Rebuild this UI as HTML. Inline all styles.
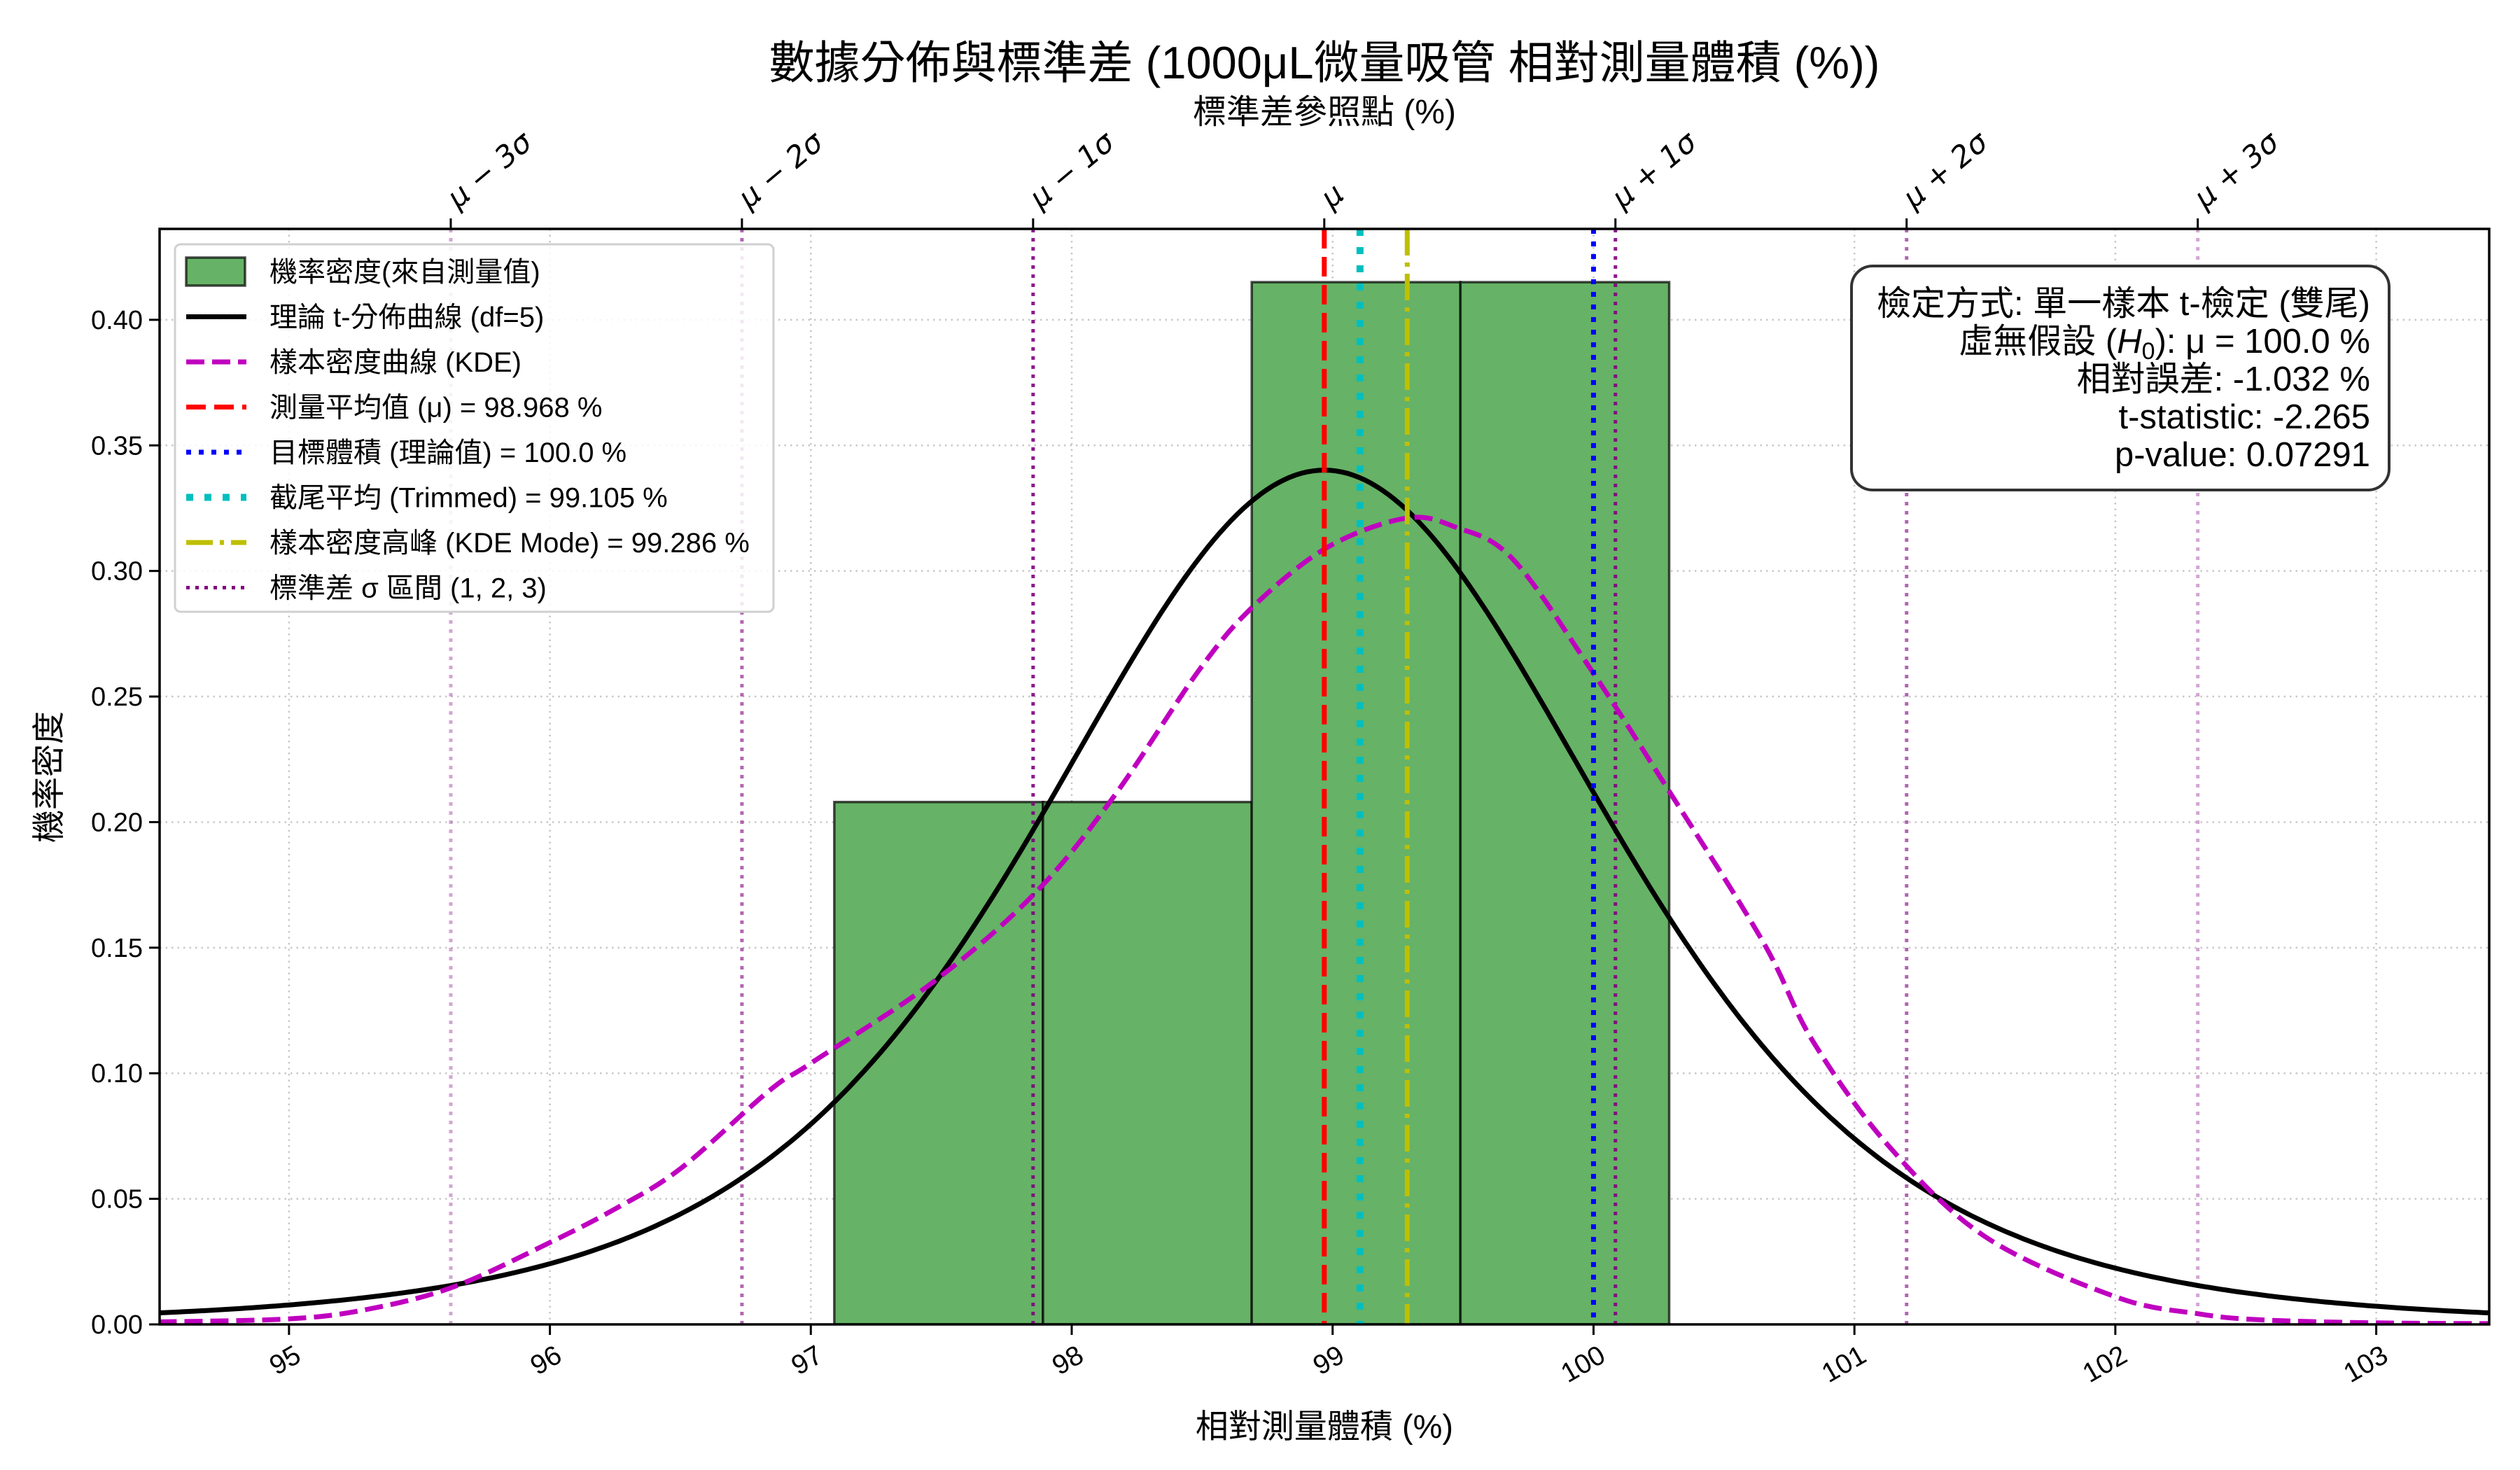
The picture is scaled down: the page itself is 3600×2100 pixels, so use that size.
<!DOCTYPE html>
<html><head><meta charset="utf-8">
<style>
html,body{margin:0;padding:0;background:#fff;}
svg{display:block;font-family:"Liberation Sans","Noto Sans CJK TC",sans-serif;}
</style></head>
<body>
<svg id="chart" width="3600" height="2100" viewBox="0 0 3600 2100" xmlns="http://www.w3.org/2000/svg">
<rect x="0" y="0" width="3600" height="2100" fill="#fff"/>
<text x="1892" y="112" font-size="65" text-anchor="middle">數據分佈與標準差 (1000μL微量吸管 相對測量體積 (%))</text>
<text x="1892" y="176" font-size="48" text-anchor="middle">標準差參照點 (%)</text>
<text x="1892" y="2054" font-size="47" text-anchor="middle">相對測量體積 (%)</text>
<text transform="translate(86,1110) rotate(-90)" font-size="47" text-anchor="middle">機率密度</text>
<g id="plot"></g>
</svg>
<script>
// ---- data ----
const xTicks = [95, 96, 97, 98, 99, 100, 101, 102, 103];
const yTicks = [0.00, 0.05, 0.10, 0.15, 0.20, 0.25, 0.30, 0.35, 0.40];
const yTickLabels = ["0.00","0.05","0.10","0.15","0.20","0.25","0.30","0.35","0.40"];
const binEdges = [97.09, 97.89, 98.69, 99.49, 100.29];
const binDensity = [0.208, 0.208, 0.415, 0.415];
const kdeX = [94.5, 95.0, 95.3, 95.63, 96.0, 96.25, 96.5, 96.84, 97.0, 97.47, 97.86, 98.16, 98.49, 98.7, 98.98, 99.28, 99.47, 99.69, 99.99, 100.29, 100.65, 100.84, 101.13, 101.5, 102.0, 102.32, 102.56, 103.0, 103.43];
const kdeY = [0.001, 0.0022, 0.006, 0.0149, 0.0326, 0.046, 0.062, 0.093, 0.104, 0.1364, 0.1718, 0.210, 0.2608, 0.2863, 0.3094, 0.321, 0.3175, 0.3048, 0.2608, 0.2123, 0.1523, 0.1129, 0.0712, 0.035, 0.011, 0.0042, 0.0018, 0.0006, 0.0003];
const tDf = [5];
const tLoc = [98.968];
const tScale = [1.116];
const meanVal = [98.968];
const targetVal = [100.0];
const trimmedVal = [99.105];
const modeVal = [99.286];
const sigmaVal = [1.116];
const sigmaK = [-3, -2, -1, 0, 1, 2, 3];
const sigmaLabels = ["μ − 3σ","μ − 2σ","μ − 1σ","μ","μ + 1σ","μ + 2σ","μ + 3σ"];
const legendLabels = ["機率密度(來自測量值)","理論 t-分佈曲線 (df=5)","樣本密度曲線 (KDE)","測量平均值 (μ) = 98.968 %","目標體積 (理論值) = 100.0 %","截尾平均 (Trimmed) = 99.105 %","樣本密度高峰 (KDE Mode) = 99.286 %","標準差 σ 區間 (1, 2, 3)"];
const statLines = ["檢定方式: 單一樣本 t-檢定 (雙尾)","虛無假設 (H0): μ = 100.0 %","相對誤差: -1.032 %","t-statistic: -2.265","p-value: 0.07291"];

// ---- axes ----
const L=228, R=3556, T=327, B=1892;
const xMin=94.504, xMax=103.433, yMin=0, yMax=0.4362;
const sx = v => L + (v-xMin)/(xMax-xMin)*(R-L);
const sy = v => B - (v-yMin)/(yMax-yMin)*(B-T);
const NS="http://www.w3.org/2000/svg";
const g=document.getElementById('plot');
function mk(tag, attrs, parent){const e=document.createElementNS(NS,tag);for(const k in attrs)e.setAttribute(k,attrs[k]);(parent||g).appendChild(e);return e;}

const defs=mk('defs',{});
const cp=mk('clipPath',{id:'clip'},defs);
mk('rect',{x:L,y:T,width:R-L,height:B-T},cp);
const area=mk('g',{'clip-path':'url(#clip)'});



// grid
xTicks.forEach(v=>{const l=mk('line',{x1:sx(v),x2:sx(v),y1:T,y2:B,stroke:'#c8c8c8','stroke-width':2.5,'stroke-dasharray':'2.5 6'},area);

});
yTicks.forEach(v=>{const l=mk('line',{x1:L,x2:R,y1:sy(v),y2:sy(v),stroke:'#c8c8c8','stroke-width':2.5,'stroke-dasharray':'2.5 6'},area);

});

// histogram
binDensity.forEach((d,i)=>{const r=mk('rect',{x:sx(binEdges[i]),y:sy(d),width:sx(binEdges[i+1])-sx(binEdges[i]),height:sy(0)-sy(d),fill:'#66b266',stroke:'rgba(0,0,0,0.7)','stroke-width':3.5},area);

});

// sigma lines
const sigAlpha={1:0.9,2:0.6,3:0.35};
sigmaK.forEach(k=>{if(k===0)return;const x=sx(meanVal[0]+k*sigmaVal[0]);
const l=mk('line',{x1:x,x2:x,y1:T,y2:B,stroke:'#800080','stroke-opacity':sigAlpha[Math.abs(k)],'stroke-width':5,'stroke-dasharray':'5 8'},area);

});

// t-distribution curve
function lgamma(z){const c=[76.18009172947146,-86.50532032941677,24.01409824083091,-1.231739572450155,0.1208650973866179e-2,-0.5395239384953e-5];let x=z,y=z,t=x+5.5;t-=(x+0.5)*Math.log(t);let s=1.000000000190015;for(let j=0;j<6;j++)s+=c[j]/++y;return -t+Math.log(2.5066282746310005*s/x);}
function tpdf(x,df,loc,sc){const u=(x-loc)/sc;return Math.exp(lgamma((df+1)/2)-lgamma(df/2))/Math.sqrt(df*Math.PI)*Math.pow(1+u*u/df,-(df+1)/2)/sc;}
let pts=[];for(let i=0;i<=400;i++){const x=xMin+(xMax-xMin)*i/400;pts.push(sx(x).toFixed(1)+','+sy(tpdf(x,tDf[0],tLoc[0],tScale[0])).toFixed(1));}
const tc=mk('polyline',{points:pts.join(' '),fill:'none',stroke:'#000','stroke-width':7},area);



// KDE (smooth through read points)
const kpx=kdeX.map(sx), kpy=kdeY.map(sy);
let d='M'+kpx[0]+','+kpy[0];
for(let i=0;i<kpx.length-1;i++){const i0=Math.max(i-1,0),i3=Math.min(i+2,kpx.length-1);
const c1x=kpx[i]+(kpx[i+1]-kpx[i0])/6,c1y=kpy[i]+(kpy[i+1]-kpy[i0])/6;
const c2x=kpx[i+1]-(kpx[i3]-kpx[i])/6,c2y=kpy[i+1]-(kpy[i3]-kpy[i])/6;
d+=` C${c1x.toFixed(1)},${c1y.toFixed(1)} ${c2x.toFixed(1)},${c2y.toFixed(1)} ${kpx[i+1].toFixed(1)},${kpy[i+1].toFixed(1)}`;}
const kc=mk('path',{d:d,fill:'none',stroke:'#bf00bf','stroke-width':7,'stroke-dasharray':'26 11'},area);



// vertical markers
function vline(v,color,w,dash,name){const l=mk('line',{x1:sx(v),x2:sx(v),y1:T,y2:B,stroke:color,'stroke-width':w,'stroke-dasharray':dash},area);

}
vline(meanVal[0],'#ff0000',7,'28 12','mean-line');
vline(targetVal[0],'#0000ff',7,'7 11','target-line');
vline(trimmedVal[0],'#00bfbf',10,'10 16','trimmed-mean-line');
vline(modeVal[0],'#bfbf00',7,'38 10 6 10','kde-mode-line');

// spines
const sp=mk('rect',{x:L,y:T,width:R-L,height:B-T,fill:'none',stroke:'#000','stroke-width':3.5});



// x ticks
xTicks.forEach(v=>{const x=sx(v);mk('line',{x1:x,x2:x,y1:B,y2:B+15,stroke:'#000','stroke-width':3});
const t=mk('text',{transform:`translate(${x+6},${B+28}) rotate(-30)`,'font-size':39,'text-anchor':'end','dominant-baseline':'hanging'});t.textContent=v;

});
// y ticks
yTicks.forEach((v,i)=>{const y=sy(v);mk('line',{x1:L-15,x2:L,y1:y,y2:y,stroke:'#000','stroke-width':3});
const t=mk('text',{x:L-24,y:y+13,'font-size':38,'text-anchor':'end'});t.textContent=yTickLabels[i];

});
// top sigma ticks
sigmaK.forEach((k,i)=>{const x=sx(meanVal[0]+k*sigmaVal[0]);mk('line',{x1:x,x2:x,y1:T-15,y2:T,stroke:'#000','stroke-width':3});
const t=mk('text',{transform:`translate(${x+10},${T-28}) rotate(-40)`,'font-size':42,'font-style':'italic','font-family':'"DejaVu Sans",sans-serif'});t.textContent=sigmaLabels[i];

});

// legend
const lg=mk('g',{});


mk('rect',{x:250,y:349,width:855,height:525,rx:8,fill:'rgba(255,255,255,0.85)',stroke:'#d0d0d0','stroke-width':3},lg);
const rowY=i=>388+i*64.5;
const hx1=266,hx2=352;
legendLabels.forEach((s,i)=>{const y=rowY(i);let h;
if(i===0)h=mk('rect',{x:266,y:y-20,width:84,height:40,fill:'#66b266',stroke:'rgba(0,0,0,0.7)','stroke-width':3.5},lg);
else{const st=[null,['#000',7,''],['#bf00bf',7,'26 11'],['#ff0000',7,'28 12'],['#0000ff',7,'7 11'],['#00bfbf',10,'10 16'],['#bfbf00',7,'38 10 6 10'],['#800080',5,'5 8']][i];
h=mk('line',{x1:hx1,x2:hx2,y1:y,y2:y,stroke:st[0],'stroke-width':st[1],'stroke-dasharray':st[2]},lg);}


const t=mk('text',{x:385,y:y+14,'font-size':40},lg);t.textContent=s;

});

// stats box
const sb=mk('g',{});


mk('rect',{x:2645,y:380,width:768,height:320,rx:30,fill:'#fff',stroke:'#333','stroke-width':4},sb);
statLines.forEach((s,i)=>{const t=mk('text',{x:3386,y:450+i*54,'font-size':49,'text-anchor':'end'},sb);
if(i===1){t.innerHTML='虛無假設 (<tspan font-style="italic">H</tspan><tspan font-size="34" dy="9">0</tspan><tspan dy="-9">): μ = 100.0 %</tspan>';}
else t.textContent=s;

});
</script>
</body></html>
